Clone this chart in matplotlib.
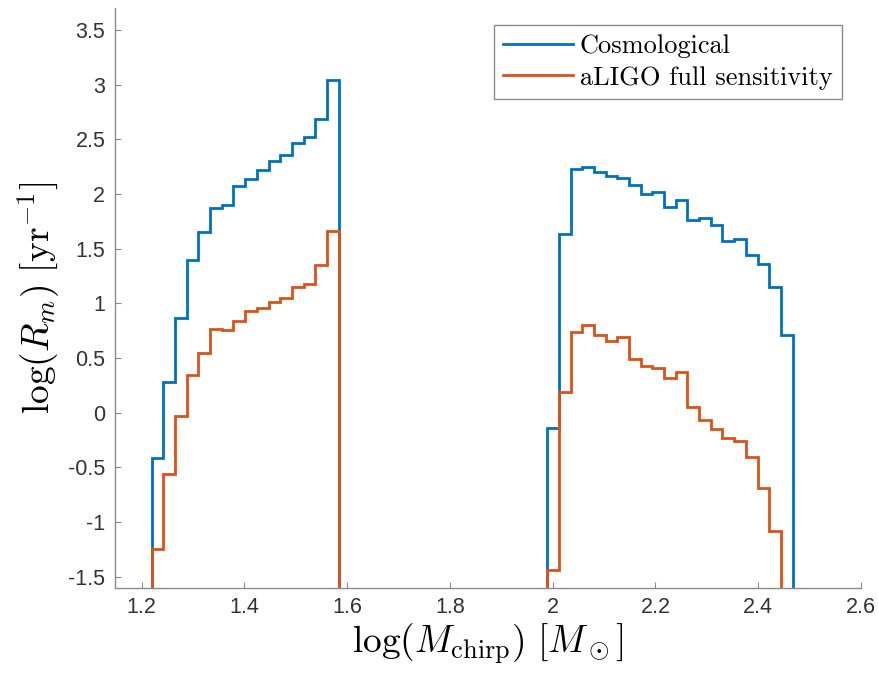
import numpy as np
import matplotlib
matplotlib.use("Agg")
import matplotlib.pyplot as plt

# log chirp mass histograms (log10 of rate per bin)
bin_width = 0.02274
left_start = 1.2195
right_start = 1.9893

cosmo_left = [-0.41, 0.28, 0.87, 1.40, 1.65, 1.87, 1.90, 2.07, 2.14, 2.22,
              2.30, 2.36, 2.47, 2.52, 2.69, 3.04]
aligo_left = [-1.25, -0.56, -0.03, 0.35, 0.55, 0.77, 0.76, 0.84, 0.93, 0.96,
              1.01, 1.05, 1.15, 1.18, 1.35, 1.66]

cosmo_right = [-0.14, 1.64, 2.23, 2.25, 2.20, 2.17, 2.15, 2.08, 2.00, 2.02,
               1.88, 1.95, 1.76, 1.78, 1.72, 1.57, 1.59, 1.44, 1.36, 1.15, 0.71]
aligo_right = [-1.44, 0.19, 0.74, 0.80, 0.71, 0.66, 0.69, 0.49, 0.43, 0.41,
               0.32, 0.37, 0.05, -0.07, -0.15, -0.23, -0.26, -0.40, -0.69, -1.08]

xticks = [1.2, 1.4, 1.6, 1.8, 2.0, 2.2, 2.4, 2.6]
xticklabels = ["1.2", "1.4", "1.6", "1.8", "2", "2.2", "2.4", "2.6"]
yticks = [-1.5, -1, -0.5, 0, 0.5, 1, 1.5, 2, 2.5, 3, 3.5]
yticklabels = ["-1.5", "-1", "-0.5", "0", "0.5", "1", "1.5", "2", "2.5", "3", "3.5"]

blue = "#0072BD"
orange = "#D95319"

plt.rcParams["mathtext.fontset"] = "cm"
plt.rcParams["axes.unicode_minus"] = False
plt.rcParams["font.family"] = ["Liberation Sans", "DejaVu Sans"]


def edges(start, n):
    return start + bin_width * np.arange(n + 1)


fig = plt.figure(figsize=(8.79, 6.74), dpi=100)
ax = fig.add_axes([0.1308, 0.128, 0.8487, 0.8597])

lw = 2.0
base = -5
ax.stairs(cosmo_left, edges(left_start, len(cosmo_left)), baseline=base,
          color=blue, lw=lw, label="Cosmological")
ax.stairs(cosmo_right, edges(right_start, len(cosmo_right)), baseline=base,
          color=blue, lw=lw)
ax.stairs(aligo_left, edges(left_start, len(aligo_left)), baseline=base,
          color=orange, lw=lw, label="aLIGO full sensitivity")
ax.stairs(aligo_right, edges(right_start, len(aligo_right)), baseline=base,
          color=orange, lw=lw)

ax.set_xlim(1.148, 2.6)
ax.set_ylim(-1.6, 3.7)
ax.set_xticks(xticks)
ax.set_xticklabels(xticklabels)
ax.set_yticks(yticks)
ax.set_yticklabels(yticklabels)

for s in ["top", "right"]:
    ax.spines[s].set_visible(False)
for s in ["left", "bottom"]:
    ax.spines[s].set_color("#8a8a8a")
    ax.spines[s].set_linewidth(1.0)
ax.tick_params(direction="in", length=4, width=0.8, color="#8a8a8a",
               labelcolor="#333333", labelsize=15.5, pad=7)

ax.set_xlabel(r"$\log(M_{\rm chirp})\ [M_\odot]$", fontsize=27, labelpad=2)
ax.set_ylabel(r"$\log(R_m)\ [{\rm yr}^{-1}]$", fontsize=27, labelpad=4)

leg = ax.legend(loc="upper right", bbox_to_anchor=(0.974, 0.971),
                prop={"family": "cmr10", "size": 19}, handlelength=2.65,
                fancybox=False, framealpha=1, borderpad=0.35,
                labelspacing=0.3, handletextpad=0.25, borderaxespad=0)
leg.get_frame().set_edgecolor("#8a8a8a")
leg.get_frame().set_linewidth(1.0)

fig.savefig("out.png", dpi=100)
